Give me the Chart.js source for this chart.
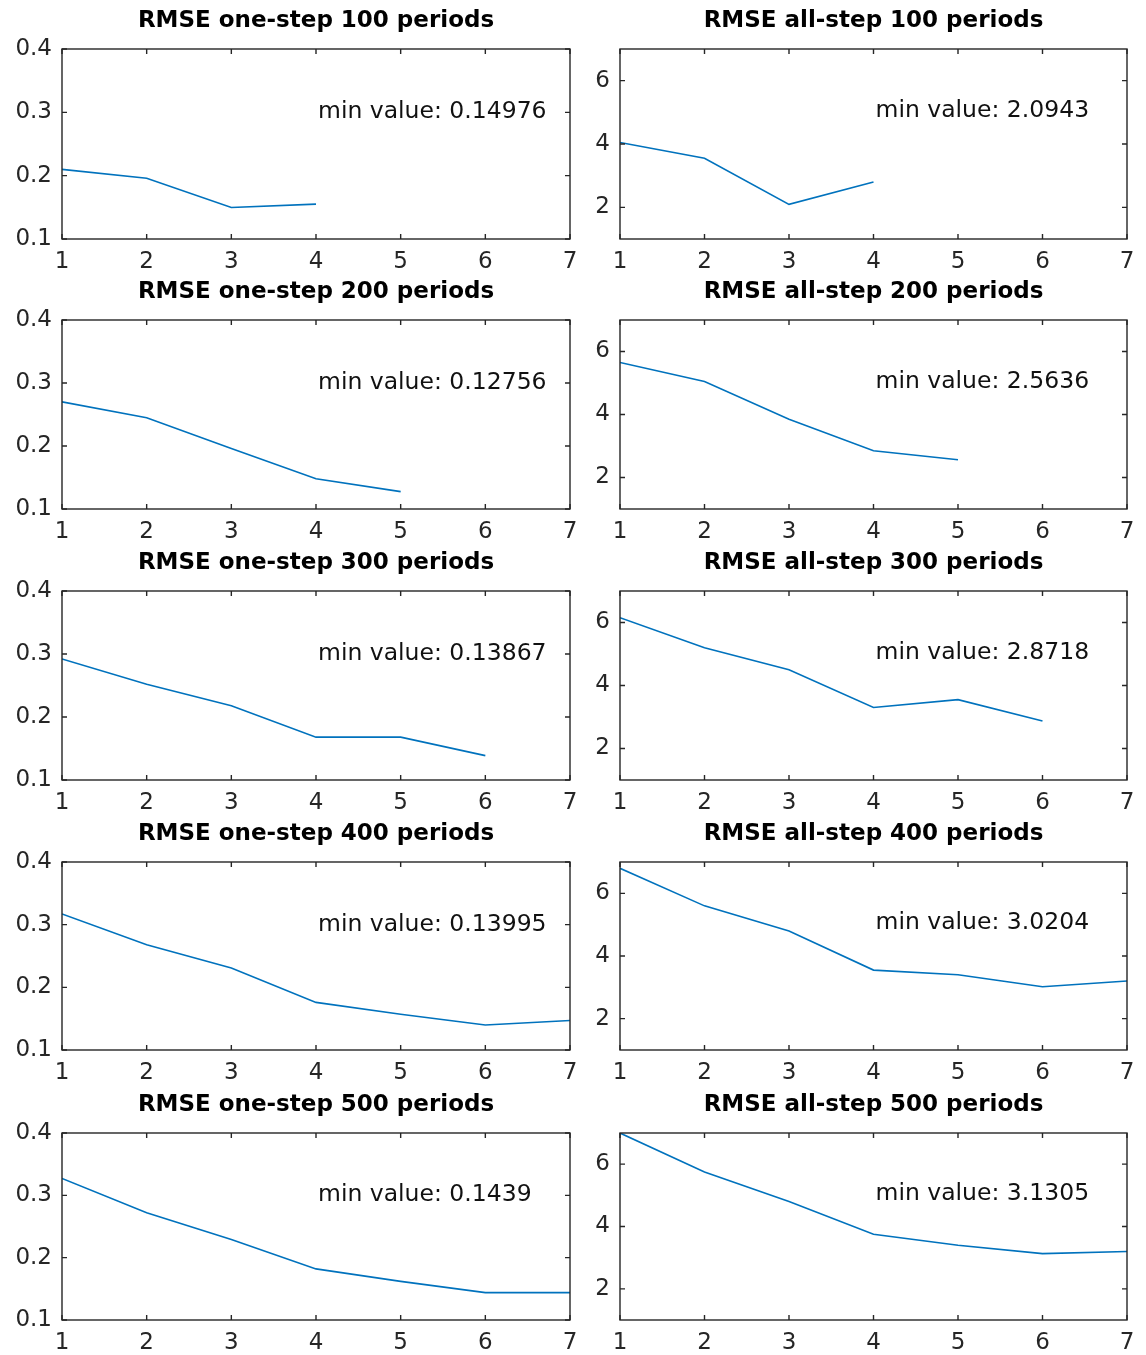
<!DOCTYPE html>
<html>
<head>
    <title>RMSE one-step / all-step</title>
    <style>
        body{
            margin:0;
            background:white;
        }
        .cell{
            position:absolute;
        }
    </style>
</head>
<body>
<div id="grid"></div>

<script src="https://cdn.jsdelivr.net/npm/chart.js@4.4.0/dist/chart.umd.min.js"></script>
<script>

    // x axis: forecast steps
    const steps = [1, 2, 3, 4, 5, 6, 7];
    const periods = [100, 200, 300, 400, 500];

    // one-step RMSE (left column)
    const oneStep100 = [0.21, 0.196, 0.14976, 0.155];
    const oneStep200 = [0.27, 0.245, 0.196, 0.148, 0.12756];
    const oneStep300 = [0.292, 0.252, 0.218, 0.168, 0.168, 0.13867];
    const oneStep400 = [0.317, 0.268, 0.231, 0.176, 0.157, 0.13995, 0.147];
    const oneStep500 = [0.327, 0.272, 0.229, 0.182, 0.162, 0.1439, 0.1439];

    // all-step RMSE (right column)
    const allStep100 = [4.05, 3.55, 2.0943, 2.8];
    const allStep200 = [5.65, 5.05, 3.85, 2.85, 2.5636];
    const allStep300 = [6.15, 5.2, 4.5, 3.3, 3.55, 2.8718];
    const allStep400 = [6.8, 5.6, 4.8, 3.55, 3.4, 3.0204, 3.2];
    const allStep500 = [7.0, 5.75, 4.8, 3.75, 3.4, 3.1305, 3.2];

    const oneStepTicks = [0.1, 0.2, 0.3, 0.4];
    const allStepTicks = [2, 4, 6];

    const oneStep = [oneStep100, oneStep200, oneStep300, oneStep400, oneStep500];
    const allStep = [allStep100, allStep200, allStep300, allStep400, allStep500];

    // plot-area top/bottom of each row, in page pixels
    const rowTop = [49, 320, 591, 862, 1133];
    const rowBottom = [239, 509, 780, 1050, 1320];
    const titleSpace = 49;
    const xAxisSpace = 40;

    const axisColor = '#262626';
    const lineColor = '#0072BD';
    const fontFamily = "'DejaVu Sans', sans-serif";

    // matlab style box with inward ticks, title over the axes, "min value" text
    const matlabBox = {
        id: 'matlabBox',
        afterDraw(chart, args, opts) {
            const ctx = chart.ctx;
            const a = chart.chartArea;
            const xs = chart.scales.x;
            const ys = chart.scales.y;
            const len = 5;
            ctx.save();
            ctx.strokeStyle = axisColor;
            ctx.lineWidth = 1.4;
            ctx.strokeRect(a.left, a.top, a.right - a.left, a.bottom - a.top);
            ctx.beginPath();
            xs.ticks.forEach(t => {
                const px = xs.getPixelForValue(t.value);
                ctx.moveTo(px, a.bottom); ctx.lineTo(px, a.bottom - len);
                ctx.moveTo(px, a.top); ctx.lineTo(px, a.top + len);
            });
            ys.ticks.forEach(t => {
                const py = ys.getPixelForValue(t.value);
                ctx.moveTo(a.left, py); ctx.lineTo(a.left + len, py);
                ctx.moveTo(a.right, py); ctx.lineTo(a.right - len, py);
            });
            ctx.stroke();

            ctx.fillStyle = '#000';
            ctx.font = 'bold 23px ' + fontFamily;
            ctx.textAlign = 'center';
            ctx.textBaseline = 'middle';
            ctx.fillText(opts.title, (a.left + a.right) / 2, a.top - 28);

            ctx.fillStyle = '#111';
            ctx.font = '23.5px ' + fontFamily;
            ctx.textAlign = 'left';
            ctx.fillText(opts.note, xs.getPixelForValue(opts.noteX) + 2, ys.getPixelForValue(opts.noteY));
            ctx.restore();
        }
    };

    function makeChart(col, row) {
        const left = col === 0;
        const values = left ? oneStep[row] : allStep[row];
        const plotH = rowBottom[row] - rowTop[row];

        const div = document.createElement('div');
        div.className = 'cell';
        const canvasLeft = left ? 0 : 580;
        const canvasW = left ? 590 : 566;
        const canvasH = plotH + titleSpace + xAxisSpace;
        div.style.left = canvasLeft + 'px';
        div.style.top = (rowTop[row] - titleSpace) + 'px';
        const canvas = document.createElement('canvas');
        canvas.width = canvasW;
        canvas.height = canvasH;
        div.appendChild(canvas);
        document.getElementById('grid').appendChild(div);

        const points = values.map((v, i) => ({x: steps[i], y: v}));
        const minValue = Math.min(...values);
        const yTicks = left ? oneStepTicks : allStepTicks;

        new Chart(canvas, {
            type: 'line',
            data: {
                datasets: [{
                    data: points,
                    borderColor: lineColor,
                    borderWidth: 1.6,
                    pointRadius: 0,
                    tension: 0,
                    fill: false
                }]
            },
            options: {
                responsive: false,
                animation: false,
                layout: {padding: {left: 0, right: left ? 20 : 19, top: titleSpace, bottom: 0}},
                plugins: {
                    legend: {display: false},
                    tooltip: {enabled: false},
                    matlabBox: {
                        title: 'RMSE ' + (left ? 'one-step ' : 'all-step ') + periods[row] + ' periods',
                        note: 'min value: ' + minValue,
                        noteX: 4,
                        noteY: left ? 0.3 : 5.05
                    }
                },
                scales: {
                    x: {
                        type: 'linear',
                        min: 1,
                        max: 7,
                        grid: {display: false, drawTicks: false},
                        border: {display: false},
                        afterBuildTicks: s => { s.ticks = steps.map(v => ({value: v})); },
                        afterFit: s => { s.height = xAxisSpace; },
                        ticks: {
                            color: axisColor,
                            padding: 9,
                            maxRotation: 0,
                            font: {family: fontFamily, size: 23},
                            callback: v => String(v)
                        }
                    },
                    y: {
                        type: 'linear',
                        min: left ? 0.1 : 1,
                        max: left ? 0.4 : 7,
                        grid: {display: false, drawTicks: false},
                        border: {display: false},
                        afterBuildTicks: s => { s.ticks = yTicks.map(v => ({value: v})); },
                        afterFit: s => { s.width = left ? 62 : 40; },
                        ticks: {
                            color: axisColor,
                            padding: 10,
                            font: {family: fontFamily, size: 23},
                            callback: v => left ? v.toFixed(1) : String(v)
                        }
                    }
                }
            },
            plugins: [matlabBox]
        });
    }

    for (let r = 0; r < 5; r++) {
        makeChart(0, r);
        makeChart(1, r);
    }

</script>
</body>
</html>
